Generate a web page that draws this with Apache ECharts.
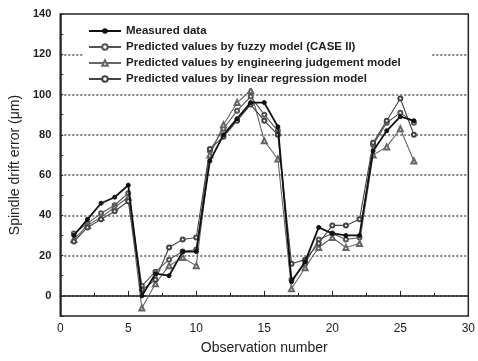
<!DOCTYPE html>
<html>
<head>
<meta charset="utf-8">
<script src="https://cdn.jsdelivr.net/npm/echarts@6/dist/echarts.min.js"></script>
<style>html,body{margin:0;padding:0;background:#fff}#c{width:478px;height:361px}</style>
</head>
<body>
<div id="c"></div>
<script>
var observations = [1,2,3,4,5,6,7,8,9,10,11,12,13,14,15,16,17,18,19,20,21,22,23,24,25,26];
var measured    = [30,38,46,49,55,0,11,10,22,22,67,80,88,96,96,84,7,17,34,31,30,30,72,82,89,87];
var fuzzy       = [31,36,41,45,51,5,12,18,22,23,72,83,92,99,90,82,8,16,28,31,28,29,75,86,91,86];
var engineering = [28,35,39,44,49,-6,6,15,19,15,70,85,96,102,77,68,3.5,14,24,29,24,26,70,74,83,67];
var regression  = [27,34,38,42,47,3,8,24,28,29,73,79,87,95,87,80,16,18,26,35,35,38,76,87,98,80];
var names = ['Measured data','Predicted values by fuzzy model (CASE II)','Predicted values by engineering judgement model','Predicted values by linear regression model'];

function pairs(v){ return observations.map(function(x,i){ return [x, v[i]]; }); }

var chart = echarts.init(document.getElementById('c'));
var font = 'Liberation Sans, Arial, sans-serif';
chart.setOption({
  animation:false,
  backgroundColor:'#fff',
  grid:{left:58,right:5,top:14,bottom:45,show:true,borderColor:'#222',borderWidth:1.5,backgroundColor:'transparent'},
  legend:{
    orient:'vertical', left:84, top:22, itemWidth:32, itemHeight:7, itemGap:4,
    backgroundColor:'#fff', padding:[3,30,3,4],
    textStyle:{fontFamily:font,fontSize:11.5,color:'#222',fontWeight:'bold'},
    data:names
  },
  xAxis:{
    type:'value', min:0, max:30, interval:5,
    name:'Observation number', nameLocation:'middle', nameGap:25,
    nameTextStyle:{fontFamily:font,fontSize:14,color:'#222'},
    axisLine:{lineStyle:{color:'#222',width:1.5}},
    axisTick:{inside:true,length:5,lineStyle:{color:'#222'}},
    minorTick:{show:true,splitNumber:2,length:3,lineStyle:{color:'#222'}},
    axisLabel:{fontFamily:font,fontSize:12,color:'#222',margin:7},
    splitLine:{show:false}
  },
  yAxis:{
    type:'value', min:-10, max:140, interval:10,
    name:'Spindle drift error (\u03bcm)', nameLocation:'middle', nameGap:37,
    nameTextStyle:{fontFamily:font,fontSize:14,color:'#222'},
    axisLine:{lineStyle:{color:'#222',width:1.5}},
    axisTick:{inside:true,length:3,lineStyle:{color:'#222'}},
    axisLabel:{fontFamily:font,fontSize:11,color:'#222',fontWeight:'bold',margin:9,
      formatter:function(v){ return (v % 20 === 0) ? String(v) : ''; }},
    splitLine:{show:true,lineStyle:{color:['rgba(0,0,0,0)','#555'],type:[2,2],width:1.5}}
  },
  series:[
    {name:names[0],type:'line',data:pairs(measured),symbol:'circle',symbolSize:4,
     lineStyle:{color:'#111',width:1.8},itemStyle:{color:'#111',borderColor:'#111'},z:5},
    {name:names[1],type:'line',data:pairs(fuzzy),symbol:'emptyCircle',symbolSize:4,
     lineStyle:{color:'#555',width:1.1},itemStyle:{color:'#555',borderColor:'#555',borderWidth:1}},
    {name:names[2],type:'line',data:pairs(engineering),symbol:'emptyTriangle',symbolSize:5,
     lineStyle:{color:'#666',width:1.1},itemStyle:{color:'#666',borderColor:'#666',borderWidth:1}},
    {name:names[3],type:'line',data:pairs(regression),symbol:'emptyCircle',symbolSize:4,
     lineStyle:{color:'#444',width:1.1},itemStyle:{color:'#444',borderColor:'#444',borderWidth:1}}
  ]
});
</script>
</body>
</html>
